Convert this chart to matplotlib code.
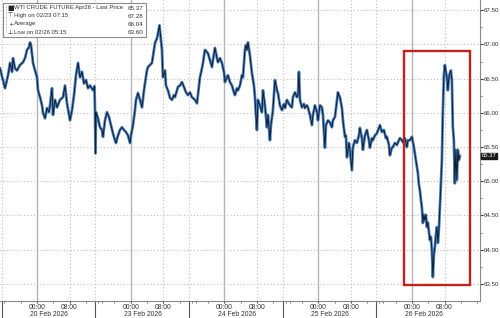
import matplotlib
matplotlib.use("Agg")
import matplotlib.pyplot as plt
import matplotlib.patches as mpatches

# ---- data (x = trading hours since 20 Feb 2026 00:00, 23-hour sessions) ----
hours = [-9.08, -7.85, -7.11, -6.62, -6.13, -5.89, -5.40, -4.91, -4.17, -3.43, -2.94, -2.45, -1.96, -1.72,
         -1.47, -0.98, -0.49, 0.0, 0.25, 0.74, 1.23, 1.47, 1.96, 2.45, 2.94, 3.19, 3.68, 3.92, 4.42, 4.91,
         5.64, 6.38, 6.87, 7.36, 7.85, 8.09, 8.59, 9.08, 9.57, 10.06, 10.55, 11.04, 11.53, 12.02, 12.51,
         13.00, 13.74, 14.10, 14.23, 14.35, 14.47, 14.96, 15.45, 15.94, 16.19, 16.68, 17.17, 17.66, 18.15,
         18.64, 19.13, 19.38, 19.87, 20.36, 20.85, 21.34, 21.83, 22.32, 22.82, 23.06, 23.55, 24.04, 24.29,
         24.78, 25.27, 25.76, 26.25, 26.49, 26.98, 27.23, 27.72, 28.21, 28.70, 28.95, 29.44, 29.68, 30.05,
         30.42, 30.66, 30.91, 31.40, 31.64, 32.13, 32.63, 33.12, 33.61, 33.85, 34.34, 34.59, 35.08, 35.57,
         36.06, 36.55, 37.04, 37.53, 38.02, 38.76, 39.25, 39.49, 39.98, 40.47, 40.72, 41.21, 41.70, 41.95,
         42.44, 42.93, 43.17, 43.66, 44.16, 44.40, 44.89, 45.38, 45.87, 46.12, 46.61, 46.85, 47.34, 47.83,
         48.32, 48.57, 49.06, 49.31, 49.80, 50.29, 50.53, 51.02, 51.27, 51.51, 51.76, 52.25, 52.74, 53.23,
         53.48, 53.72, 53.97, 54.21, 54.70, 55.19, 55.44, 55.93, 56.42, 56.67, 57.16, 57.40, 57.89, 58.38,
         58.88, 59.12, 59.61, 60.10, 60.59, 60.84, 61.33, 61.57, 62.06, 62.55, 62.80, 63.29, 63.78, 64.03,
         64.27, 64.52, 65.01, 65.50, 65.74, 66.23, 66.48, 66.97, 67.46, 67.71, 68.20, 68.69, 68.94, 69.42,
         69.92, 70.16, 70.65, 70.90, 71.39, 71.88, 72.37, 72.61, 73.11, 73.60, 73.84, 74.08, 74.33, 74.82,
         75.07, 75.56, 75.80, 76.05, 76.54, 76.78, 77.27, 77.52, 78.01, 78.50, 78.99, 79.23, 79.72, 79.97,
         80.46, 80.95, 81.44, 81.69, 82.18, 82.42, 82.91, 83.40, 83.89, 84.14, 84.63, 85.12, 85.61, 85.86,
         86.35, 86.59, 87.08, 87.33, 87.82, 88.31, 88.80, 89.05, 89.54, 89.78, 90.27, 90.76, 91.01, 91.50,
         91.99, 92.24, 92.48, 92.97, 93.46, 93.71, 93.95, 94.20, 94.44, 94.69, 94.93, 95.18, 95.42, 95.67,
         95.91, 96.16, 96.40, 96.65, 96.89, 97.14, 97.38, 97.63, 97.87, 98.12, 98.37, 98.61, 98.86, 99.10,
         99.35, 99.59, 99.72, 99.84, 100.08, 100.33, 100.57, 100.82, 101.06, 101.31, 101.55, 101.80, 102.04,
         102.29, 102.53, 102.78, 103.02, 103.27, 103.51, 103.76]
price = [66.65, 66.36, 66.55, 66.73, 66.60, 66.80, 66.65, 66.62, 66.70, 66.74, 66.80, 66.92, 66.96, 67.03,
         66.99, 66.73, 66.62, 66.52, 66.33, 66.23, 66.11, 66.00, 65.92, 66.07, 66.01, 66.11, 66.36, 65.97, 66.19, 66.08,
         66.19, 66.23, 66.40, 66.14, 65.97, 65.89, 66.04, 66.26, 66.55, 66.73, 66.52, 66.60, 66.43, 66.48, 66.36,
         66.40, 66.33, 66.39, 66.04, 65.41, 66.01, 65.92, 65.79, 65.75, 65.65, 65.89, 66.01, 65.94, 65.82,
         65.70, 65.60, 65.56, 65.67, 65.75, 65.79, 65.75, 65.72, 65.67, 65.56, 65.67, 65.82, 66.04, 66.19,
         66.29, 66.19, 66.08, 66.33, 66.43, 66.62, 66.67, 66.70, 66.73, 66.92, 67.02, 67.09, 67.16, 67.28,
         67.06, 66.92, 66.52, 66.62, 66.40, 66.33, 66.22, 66.19, 66.26, 66.23, 66.33, 66.38, 66.40, 66.45,
         66.38, 66.30, 66.26, 66.30, 66.23, 66.19, 66.14, 66.26, 66.52, 66.65, 66.73, 66.92, 66.89, 66.87,
         66.77, 66.67, 66.77, 66.95, 66.80, 66.74, 66.80, 66.73, 66.60, 66.45, 66.52, 66.55, 66.45, 66.40,
         66.30, 66.26, 66.36, 66.33, 66.40, 66.55, 66.52, 66.92, 66.99, 66.92, 67.03, 66.84, 66.58, 66.40,
         66.23, 65.97, 65.75, 66.19, 66.11, 66.01, 66.33, 66.11, 65.79, 65.97, 65.60, 65.82, 66.04, 66.48,
         66.33, 66.29, 66.11, 66.04, 66.13, 66.07, 66.19, 66.16, 66.11, 66.08, 66.23, 66.30, 66.23, 66.26,
         66.60, 66.19, 66.08, 66.13, 66.07, 66.11, 66.08, 65.97, 65.82, 65.97, 66.11, 66.01, 65.89, 66.11,
         66.08, 65.97, 65.49, 65.82, 65.89, 65.86, 65.79, 65.89, 65.94, 66.19, 66.30, 66.26, 66.23, 66.07,
         65.89, 65.65, 65.67, 65.35, 65.56, 65.46, 65.16, 65.50, 65.60, 65.56, 65.67, 65.78, 65.63, 65.46,
         65.67, 65.75, 65.60, 65.49, 65.63, 65.60, 65.67, 65.70, 65.78, 65.82, 65.72, 65.75, 65.63, 65.65,
         65.53, 65.38, 65.49, 65.50, 65.56, 65.53, 65.60, 65.63, 65.60, 65.57, 65.63, 65.50, 65.60, 65.60,
         65.65, 65.57, 65.50, 65.31, 65.12, 64.95, 64.87, 64.73, 64.62, 64.39, 64.51, 64.43, 64.51, 64.33,
         64.40, 64.26, 64.14, 64.19, 64.00, 63.60, 63.92, 64.04, 64.21, 64.33, 64.10, 64.29, 64.62, 64.95,
         65.31, 66.04, 66.33, 66.55, 66.70, 66.60, 66.52, 66.33, 66.51, 66.58, 66.62, 66.48, 65.79,
         65.60, 64.97, 65.46, 65.02, 65.46, 65.31, 65.37]

day_starts = [0, 23, 46, 69, 92]            # 00:00 of each session day
day_labels = ["20 Feb 2026", "23 Feb 2026", "24 Feb 2026", "25 Feb 2026", "26 Feb 2026"]
session_breaks = [-8.7, 14.3, 37.3, 60.3, 83.3]
y_ticks = [63.5, 64.0, 64.5, 65.0, 65.5, 66.0, 66.5, 67.0, 67.5]

legend_rows = [("\u25A0", "WTI CRUDE FUTURE Apr26 - Last Price", "65.37"),
               ("\u22A4", "High on 02/23 07:15", "67.28"),
               ("+", "Average", "66.04"),
               ("\u22A5", "Low on 02/26 05:15", "63.60")]
last_price = 65.37
box_x = (90.0, 106.2)
box_y = (63.49, 66.90)

# ---- figure ----
plt.rcParams['font.family'] = ['Liberation Sans', 'DejaVu Sans']
W, H = 500, 318
fig = plt.figure(figsize=(W / 100, H / 100), dpi=100)
ax = fig.add_axes([0.0, 17 / H, 480 / W, 1 - 17 / H])
ax.set_xlim(-9.08, 108.7)
ax.set_ylim(63.25, 67.65)

grid_c = "#bdbdbd"
for y in y_ticks:
    ax.axhline(y, color=grid_c, lw=0.8, ls=(0, (1, 2)), zorder=1)
for d in day_starts:
    ax.axvline(d, color="#b4b4b4", lw=1.0, zorder=1)
    ax.axvline(d + 8, color=grid_c, lw=0.8, ls=(0, (1, 2)), zorder=1)
for s in session_breaks:
    ax.axvline(s, color=grid_c, lw=0.8, ls=(0, (1, 2)), zorder=1)
    ax.plot([s, s], [0, -0.06], transform=ax.get_xaxis_transform(), color="#555555",
            lw=0.8, clip_on=False)

ax.plot(hours, price, color="#4b82c4", lw=2.0, zorder=3)
ax.plot(hours, price, color="#101c2c", lw=0.7, zorder=4)

ax.add_patch(mpatches.Rectangle((box_x[0], box_y[0]), box_x[1] - box_x[0], box_y[1] - box_y[0],
                                fill=False, ec="#c4201c", lw=1.7, zorder=5))

# axes styling
for side in ["top", "left"]:
    ax.spines[side].set_visible(False)
for side in ["right", "bottom"]:
    ax.spines[side].set_color("#888888")
    ax.spines[side].set_linewidth(0.8)

ax.yaxis.tick_right()
ax.set_yticks(y_ticks)
ax.set_yticklabels([f"{v:.2f}" for v in y_ticks])
ax.set_yticks([v + 0.25 for v in y_ticks[:-1]], minor=True)
ax.tick_params(axis="y", which="major", length=2.0, width=0.8, pad=0.6, labelsize=4.4,
               colors="#333333", direction="out")
ax.tick_params(axis="y", which="minor", length=1.3, width=0.6, colors="#666666")

xt = []
xl = []
for d in day_starts:
    xt += [d, d + 8]
    xl += ["00:00", "08:00"]
ax.set_xticks(xt)
ax.set_xticklabels(xl)
ax.set_xticks([d + h for d in day_starts for h in (-8, -4, 4, 12, 16)], minor=True)
ax.tick_params(axis="x", which="major", length=1.5, width=0.7, pad=0.5, labelsize=4.9,
               colors="#333333")
ax.tick_params(axis="x", which="minor", length=1.5, width=0.6, colors="#666666")

for d, lab in zip(day_starts, day_labels):
    ax.annotate(lab, xy=(d, 0), xycoords=ax.get_xaxis_transform(), xytext=(-5, -7.2),
                textcoords="offset points", ha="left", va="top", fontsize=4.9, color="#333333",
                annotation_clip=False)

# last price tag
ax.annotate(f"{last_price:.2f}", xy=(1.0, last_price), xycoords=ax.get_yaxis_transform(),
            xytext=(1.0, 0), textcoords="offset points", ha="left", va="center",
            fontsize=4.3, color="white", annotation_clip=False,
            bbox=dict(boxstyle="square,pad=0.12", fc="#1a1a1a", ec="#1a1a1a"))

# legend box (figure pixel coords)
def fx(px):
    return px / W

def fy(py):
    return 1 - py / H

fig.patches.append(mpatches.Rectangle((fx(3), fy(37)), fx(143), 34 / H, transform=fig.transFigure,
                                      fc="white", ec="#8c8c8c", lw=0.8, zorder=10))
fig.lines.append(plt.Line2D([fx(6), fx(6)], [fy(5), fy(32)], transform=fig.transFigure,
                            color="#aaaaaa", lw=0.6, ls=(0, (1, 1)), zorder=11))
for i, (icon, lab, val) in enumerate(legend_rows):
    yy = fy(8 + 8 * i)
    fig.text(fx(10.5), yy, icon, fontsize=4.4 if i else 5.0, ha="center", va="center",
             color="#222222", family=["DejaVu Sans"], zorder=12)
    fig.text(fx(14), yy, lab, fontsize=4.35, ha="left", va="center", color="#333333", zorder=12)
    fig.text(fx(143), yy, val, fontsize=4.5, ha="right", va="center", color="#333333", zorder=12)

fig.savefig("out.png", dpi=100)
